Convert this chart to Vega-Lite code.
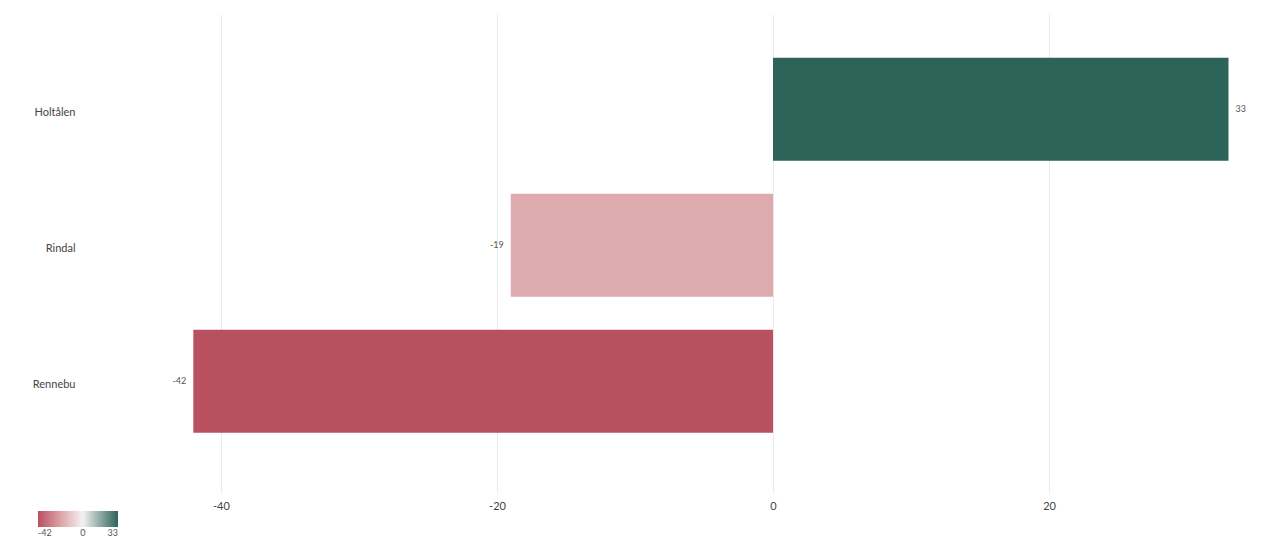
{
  "$schema": "https://vega.github.io/schema/vega-lite/v6.json",
  "autosize": {"type": "none"},
  "padding": {"left": 145, "top": 14, "right": 11, "bottom": 49},
  "width": 1118,
  "height": 479,
  "background": "white",
  "config": {"view": {"stroke": null}, "font": "Lato"},
  "data": {"values": [
    {"kommune": "Holtålen", "value": 33, "label": "33"},
    {"kommune": "Rindal", "value": -19, "label": "-19"},
    {"kommune": "Rennebu", "value": -42, "label": "-42"}
  ]},
  "encoding": {
    "y": {"field": "kommune", "type": "nominal", "sort": ["Holtålen", "Rindal", "Rennebu"],
      "scale": {"paddingInner": 0.243, "paddingOuter": 0.382, "align": 0.42},
      "axis": {"title": null, "domain": false, "ticks": false, "labelPadding": 70, "labelOffset": 4, "labelFontSize": 11, "labelColor": "#444444", "labelFont": "Lato"}},
    "x": {"field": "value", "type": "quantitative",
      "scale": {"domain": [-45.5, 35.5], "nice": false, "zero": false},
      "axis": {"title": null, "domain": false, "ticks": false, "values": [-40, -20, 0, 20], "labelExpr": "replace(datum.label, '−', '-')", "labelPadding": 7, "labelFontSize": 11, "labelColor": "#444444", "gridColor": "#ebebeb", "labelFont": "Lato"}}
  },
  "layer": [
    {"mark": {"type": "bar"},
     "encoding": {
       "color": {"field": "value", "type": "quantitative",
         "scale": {"domain": [-42, 0, 33], "range": ["#b85060", "#f3f3f3", "#2d6359"]},
         "legend": {"title": null, "direction": "horizontal", "orient": "none", "legendX": -107, "legendY": 497,
           "gradientLength": 80, "gradientThickness": 16, "values": [-42, 0, 33], "labelExpr": "replace(datum.label, '−', '-')", "labelFontSize": 9, "labelOffset": 2, "labelColor": "#555555", "labelFont": "Lato", "gradientStrokeWidth": 0}}
     }},
    {"mark": {"type": "text", "fontSize": 9, "color": "#555555", "align": "left", "dx": 7},
     "transform": [{"filter": "datum.value > 0"}],
     "encoding": {"text": {"field": "label", "type": "nominal"}}},
    {"mark": {"type": "text", "fontSize": 9, "color": "#555555", "align": "right", "dx": -7},
     "transform": [{"filter": "datum.value < 0"}],
     "encoding": {"text": {"field": "label", "type": "nominal"}}}
  ]
}
